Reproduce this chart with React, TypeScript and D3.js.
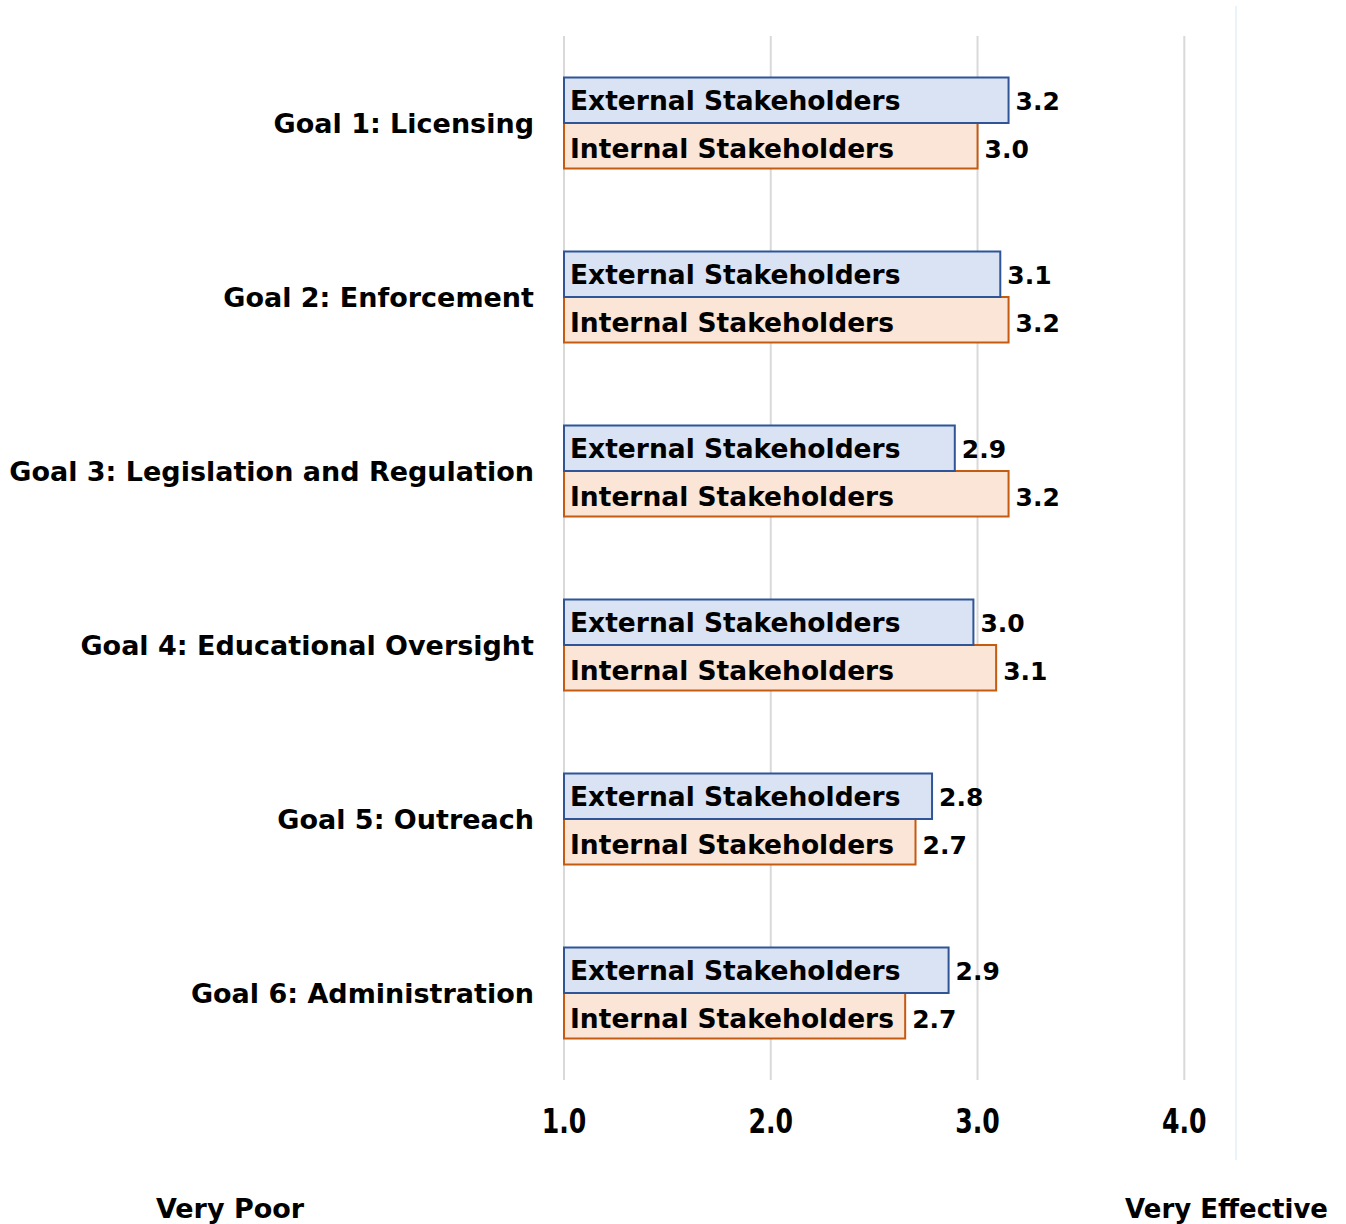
import React from "react";
import * as d3 from "d3";

const goals = [
  "Goal 1: Licensing",
  "Goal 2: Enforcement",
  "Goal 3: Legislation and Regulation",
  "Goal 4: Educational Oversight",
  "Goal 5: Outreach",
  "Goal 6: Administration",
];
const seriesKeys = ["External Stakeholders", "Internal Stakeholders"];
const externalValues = [3.15, 3.11, 2.89, 2.98, 2.78, 2.86];
const internalValues = [3.0, 3.15, 3.15, 3.09, 2.7, 2.65];
const xTicks = [1, 2, 3, 4];
const lowLabel = "Very Poor";
const highLabel = "Very Effective";

const W = 1346;
const H = 1224;
const FONT = "'DejaVu Sans', sans-serif";

const fmtVal = (v: number) => (Math.round(v * 10 + 1e-6) / 10).toFixed(1);

export default function App() {
  const x = d3.scaleLinear().domain([1, 4.25]).range([564, 1236]);
  const y0 = d3.scaleBand<string>().domain(goals).range([36, 1080]).padding(0);
  const y1 = d3
    .scaleBand<string>()
    .domain(seriesKeys)
    .range([0, y0.bandwidth()])
    .paddingInner(0)
    .paddingOuter(0.912);
  const fills = ["#DAE3F3", "#FBE5D6"];
  const strokes = ["#2F5597", "#C55A11"];
  const values = [externalValues, internalValues];
  const order = [1, 0];
  const textDy = [10, 12];

  return (
    <div style={{ position: "absolute", left: 0, top: 0 }}>
      <svg width={W} height={H} style={{ display: "block", background: "#fff" }} fontFamily={FONT}>
        <line x1={1236} x2={1236} y1={6} y2={1160} stroke="#DCEAF7" strokeWidth={1.2} />
        {xTicks.map((t) => (
          <line key={t} x1={x(t)} x2={x(t)} y1={36} y2={1080} stroke="#D9D9D9" strokeWidth={2} />
        ))}
        {goals.map((g, i) => {
          const cy = (y0(g) as number) + y0.bandwidth() / 2;
          return (
            <g key={g}>
              <text x={534} y={cy + 10} textAnchor="end" fontSize={27} fontWeight="bold" fill="#000">
                {g}
              </text>
              {order.map((s) => {
                const by = (y0(g) as number) + (y1(seriesKeys[s]) as number);
                const v = values[s][i];
                return (
                  <rect
                    key={s}
                    x={x(1)}
                    y={by}
                    width={x(v) - x(1)}
                    height={y1.bandwidth()}
                    fill={fills[s]}
                    stroke={strokes[s]}
                    strokeWidth={2}
                  />
                );
              })}
              {order.map((s) => {
                const by = (y0(g) as number) + (y1(seriesKeys[s]) as number);
                const v = values[s][i];
                const mid = by + y1.bandwidth() / 2;
                return (
                  <g key={"t" + s}>
                    <text x={x(1) + 6} y={mid + textDy[s]} fontSize={26.5} fontWeight="bold" fill="#000">
                      {seriesKeys[s]}
                    </text>
                    <text x={x(v) + 7} y={mid + textDy[s]} fontSize={25} fontWeight="bold" fill="#000">
                      {fmtVal(v)}
                    </text>
                  </g>
                );
              })}
            </g>
          );
        })}
        {xTicks.map((t) => (
          <g key={"l" + t} transform={`translate(${x(t)},1133) scale(1,1.2)`}>
            <text x={0} y={0} textAnchor="middle" fontSize={28} fontWeight="bold" fontStretch="condensed" fill="#000"
              style={{ fontFamily: "'DejaVu Sans Condensed', 'DejaVu Sans', sans-serif" }}>
              {d3.format(".1f")(t)}
            </text>
          </g>
        ))}
        <text x={230} y={1218} textAnchor="middle" fontSize={27} fontWeight="bold" fill="#000">
          {lowLabel}
        </text>
        <text x={1328} y={1218} textAnchor="end" fontSize={26} fontWeight="bold" fill="#000">
          {highLabel}
        </text>
      </svg>
    </div>
  );
}
